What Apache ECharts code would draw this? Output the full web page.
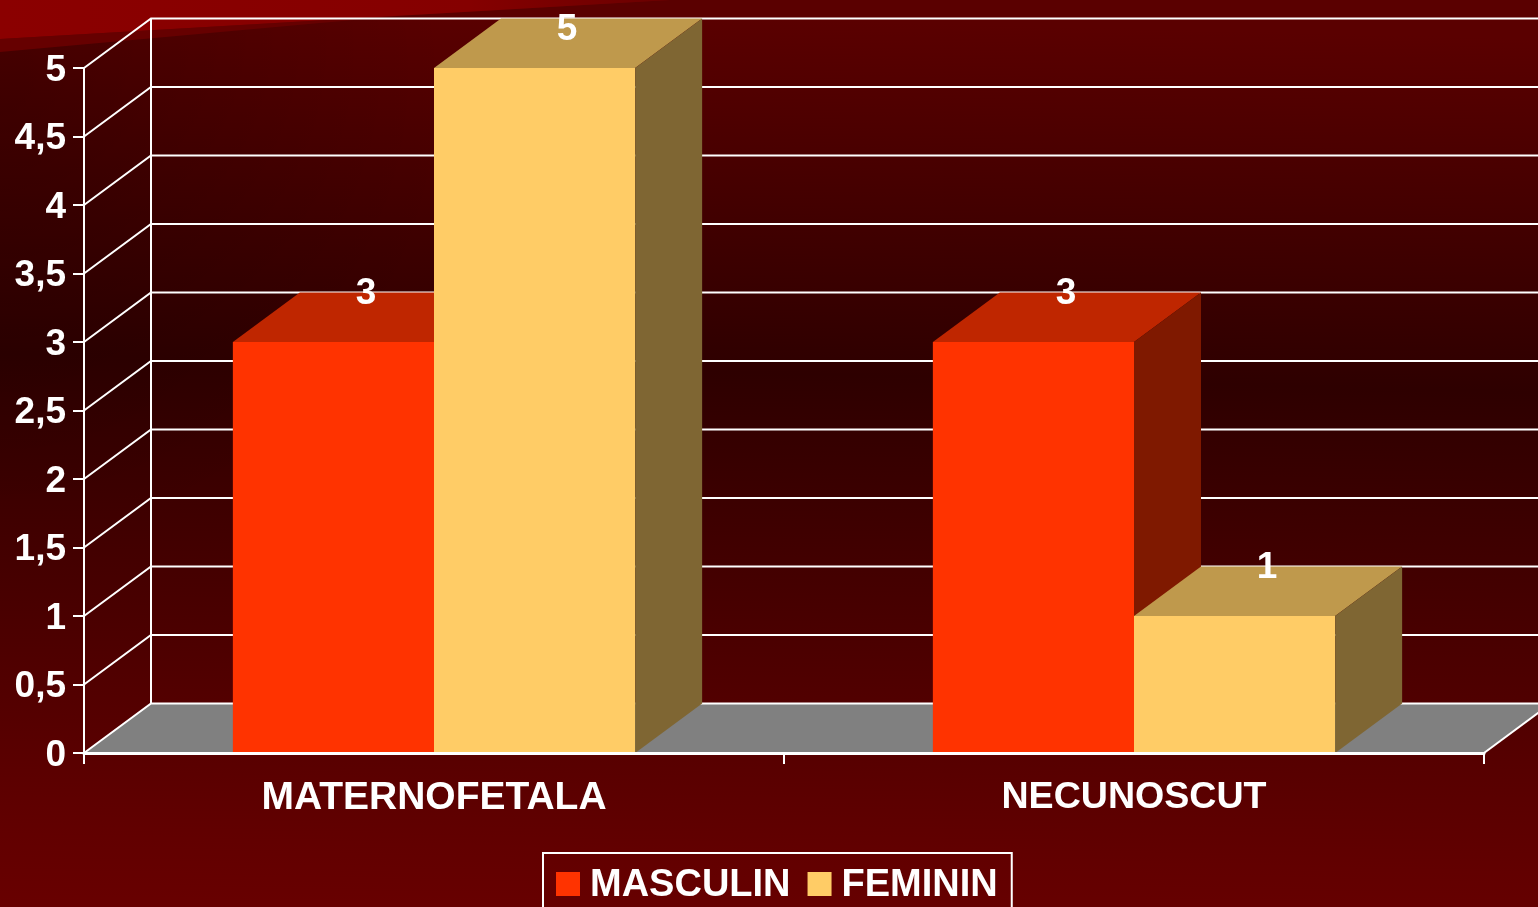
<!DOCTYPE html>
<html>
<head>
<meta charset="utf-8">
<style>html,body{margin:0;padding:0;overflow:hidden;background:#300000;}</style>
<script src="https://cdn.jsdelivr.net/npm/echarts@6/dist/echarts.min.js"></script>
</head>
<body>
<div id="chart3d" style="width:1538px;height:907px;"></div>
<script>
var categories = ['MATERNOFETALA', 'NECUNOSCUT'];
var categorySizes = [39, 37.6];
var masculin = [3, 3];
var feminin = [5, 1];
var yTicks = [0, 0.5, 1, 1.5, 2, 2.5, 3, 3.5, 4, 4.5, 5];

// depth of the fake 3d box
var DX = 67, DY = 49.5;
var FONT = '"Liberation Sans", Arial, sans-serif';
var BAR_FRAC = 201 / 699.5;

var chart = echarts.init(document.getElementById('chart3d'));

function renderWall(params, api) {
	var grid = params.coordSys;
	var v = api.value(1);
	var y = api.coord([0, v])[1];
	var left = grid.x, right = grid.x + grid.width;
	var line = { stroke: '#fff', lineWidth: 2, fill: null };
	var kids = [];
	if (v === 0) {
		var bottom = y;
		var top = api.coord([0, yTicks[yTicks.length - 1]])[1] - DY;
		kids.push({ type: 'polygon', shape: { points: [[left, y], [left + DX, y - DY], [right + DX, y - DY], [right, y]] }, style: { fill: '#808080' } });
		kids.push({ type: 'line', shape: { x1: left + DX, y1: top, x2: left + DX, y2: bottom - DY }, style: line });
		kids.push({ type: 'line', shape: { x1: right, y1: y, x2: right + DX, y2: y - DY }, style: line });
	}
	kids.push({ type: 'polyline', shape: { points: [[left, y], [left + DX, y - DY], [right + DX, y - DY]] }, style: line });
	return { type: 'group', children: kids };
}

function renderBox(offset, front, topc, side) {
	return function (params, api) {
		var w = api.size([1, 0])[0] * BAR_FRAC;
		var val = api.value(1);
		var p = api.coord([api.value(0), val]);
		var base = api.coord([api.value(0), 0]);
		var x0 = p[0] + offset * w;
		var x1 = x0 + w;
		var yt = p[1], yb = base[1];
		return {
			type: 'group',
			children: [
				{ type: 'rect', shape: { x: x0, y: yt, width: w, height: yb - yt }, style: { fill: front } },
				{ type: 'polygon', shape: { points: [[x0, yt], [x0 + DX, yt - DY], [x1 + DX, yt - DY], [x1, yt]] }, style: { fill: topc } },
				{ type: 'polygon', shape: { points: [[x1, yt], [x1 + DX, yt - DY], [x1 + DX, yb - DY], [x1, yb]] }, style: { fill: side } },
				{
					type: 'text',
					style: {
						text: String(val),
						x: (x0 + x1) / 2 + DX / 2 - 1,
						y: Math.max(yt - DY + 1, 30),
						align: 'center',
						verticalAlign: 'middle',
						fill: '#fff',
						font: 'bold 37px ' + FONT
					}
				}
			]
		};
	};
}

function pairs(values) {
	return values.map(function (v, i) { return [i, v]; });
}

chart.setOption({
	animation: false,
	backgroundColor: {
		type: 'linear', x: 0.015, y: 0, x2: 0, y2: 1,
		colorStops: [
			{ offset: 0, color: '#5a0000' },
			{ offset: 0.39, color: '#2e0000' },
			{ offset: 0.92, color: '#620000' },
			{ offset: 1, color: '#680000' }
		]
	},
	graphic: [
		{
			type: 'rect', z: -2, silent: true, shape: { x: 0, y: 0, width: 700, height: 500 },
			style: { fill: { type: 'radial', x: 0, y: 0.2, r: 0.9, colorStops: [{ offset: 0, color: 'rgba(0,0,0,0.2)' }, { offset: 1, color: 'rgba(0,0,0,0)' }] } }
		},
		{ type: 'polygon', z: -1, silent: true, shape: { points: [[0, 39], [670, 0], [580, 0], [320, 23], [0, 52]] }, style: { fill: '#660000' } },
		{
			type: 'polygon', z: -1, silent: true, shape: { points: [[0, 0], [670, 0], [0, 39]] },
			style: { fill: { type: 'linear', x: 0, y: 0, x2: 1, y2: 0, colorStops: [{ offset: 0, color: '#8b0000' }, { offset: 0.7, color: '#850000' }, { offset: 1, color: '#6a0000' }] } }
		}
	],
	grid: { left: 84, right: 54, top: 68, bottom: 154 },
	legend: {
		left: 543, top: 853,
		data: ['MASCULIN', 'FEMININ'],
		icon: 'rect',
		itemWidth: 24, itemHeight: 24,
		itemGap: 17,
		padding: [14, 14, 14, 13],
		borderColor: '#fff', borderWidth: 2,
		formatter: '{n|{name}}',
		textStyle: {
			color: '#fff', fontFamily: FONT, fontWeight: 'bold', fontSize: 38,
			rich: { n: { color: '#fff', fontFamily: FONT, fontWeight: 'bold', fontSize: 38, padding: [4, 0, 0, 5] } }
		}
	},
	xAxis: {
		type: 'category',
		data: categories.map(function (name, i) {
			return { value: name, textStyle: { fontSize: categorySizes[i] } };
		}),
		z: 6,
		axisLine: { lineStyle: { color: '#fff', width: 3 } },
		axisTick: { show: true, length: 11, lineStyle: { color: '#fff', width: 2 } },
		axisLabel: { color: '#fff', fontFamily: FONT, fontWeight: 'bold', fontSize: 38, margin: 26 }
	},
	yAxis: {
		type: 'value',
		min: 0, max: 5, interval: 0.5,
		z: 6,
		axisLine: { show: true, lineStyle: { color: '#fff', width: 2 } },
		axisTick: { show: true, length: 11, lineStyle: { color: '#fff', width: 2 } },
		splitLine: { show: false },
		axisLabel: {
			color: '#fff', margin: 18,
			formatter: function (v) { return '{n|' + String(v).replace('.', ',') + '}'; },
			rich: { n: { color: '#fff', fontFamily: FONT, fontWeight: 'bold', fontSize: 37, padding: [5, 0, 0, 0] } }
		}
	},
	series: [
		{ name: 'wall', type: 'custom', z: 1, silent: true, renderItem: renderWall, data: yTicks.map(function (v) { return [0, v]; }) },
		{ name: 'MASCULIN', type: 'custom', z: 2, itemStyle: { color: '#FF3300' }, renderItem: renderBox(-1, '#FF3300', '#BF2600', '#7F1900'), data: pairs(masculin) },
		{ name: 'FEMININ', type: 'custom', z: 3, itemStyle: { color: '#FFCC66' }, renderItem: renderBox(0, '#FFCC66', '#BF994C', '#7F6633'), data: pairs(feminin) }
	]
});
</script>
</body>
</html>
